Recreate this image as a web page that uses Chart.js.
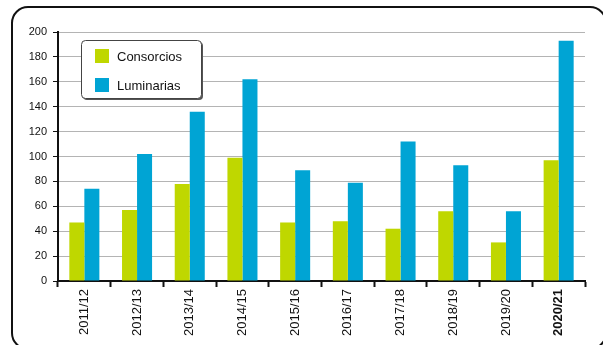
<!DOCTYPE html>
<html>
<head>
<meta charset="utf-8">
<script src="https://cdn.jsdelivr.net/npm/chart.js@4/dist/chart.umd.min.js"></script>
<style>
  html, body { margin: 0; padding: 0; background: #fff; }
  #wrap { width: 603px; height: 345px; position: relative; }
</style>
</head>
<body>
<div id="wrap"><canvas id="c" width="603" height="345"></canvas></div>
<script>
  const seasons = ["2011/12", "2012/13", "2013/14", "2014/15", "2015/16", "2016/17", "2017/18", "2018/19", "2019/20", "2020/21"];
  const consorcios = [47, 57, 78, 99, 47, 48, 42, 56, 31, 97];
  const luminarias = [74, 102, 136, 162, 89, 79, 112, 93, 56, 193];

  const GREEN = "#bfd700";
  const BLUE = "#00a4d4";
  const FONT = "'Liberation Sans', Arial, sans-serif";

  // rounded outer frame (runs past the right and bottom edges)
  const framePlugin = {
    id: "frame",
    beforeDraw(chart) {
      const ctx = chart.ctx;
      ctx.save();
      ctx.fillStyle = "#fff";
      ctx.fillRect(0, 0, chart.width, chart.height);
      ctx.beginPath();
      ctx.roundRect(12, 7, 594, 342, 16);
      ctx.lineWidth = 2;
      ctx.strokeStyle = "#111";
      ctx.stroke();
      ctx.restore();
    },
  };

  // boxed legend with drop shadow
  const legendBox = {
    id: "legendBox",
    afterDraw(chart) {
      const ctx = chart.ctx;
      const x = 81, y = 40, w = 120, h = 58;
      ctx.save();
      ctx.fillStyle = "#555";
      ctx.beginPath();
      ctx.roundRect(x + 2, y + 2, w, h, 4);
      ctx.fill();
      ctx.fillStyle = "#fff";
      ctx.strokeStyle = "#444";
      ctx.lineWidth = 1;
      ctx.beginPath();
      ctx.roundRect(x + 0.5, y + 0.5, w, h, 4);
      ctx.fill();
      ctx.stroke();
      ctx.font = "13px " + FONT;
      ctx.textBaseline = "middle";
      chart.data.datasets.forEach((ds, i) => {
        const yy = y + 16 + i * 29;
        ctx.fillStyle = ds.backgroundColor;
        ctx.fillRect(95, yy - 7, 14, 14);
        ctx.fillStyle = "#111";
        ctx.fillText(ds.label, 117, yy + 1);
      });
      ctx.restore();
    },
  };

  new Chart(document.getElementById("c"), {
    type: "bar",
    data: {
      labels: seasons,
      datasets: [
        { label: "Consorcios", data: consorcios, backgroundColor: GREEN, barPercentage: 1, categoryPercentage: 0.57 },
        { label: "Luminarias", data: luminarias, backgroundColor: BLUE, barPercentage: 1, categoryPercentage: 0.57 },
      ],
    },
    options: {
      responsive: false,
      animation: false,
      layout: { padding: { top: 32, right: 18, bottom: 0, left: 0 } },
      plugins: { legend: { display: false }, tooltip: { enabled: false } },
      scales: {
        x: {
          afterFit: s => { s.height = 64; },
          grid: { drawOnChartArea: false, tickLength: 6, tickColor: "#111", tickWidth: 2 },
          border: { color: "#111", width: 2 },
          ticks: {
            maxRotation: 90, minRotation: 90, padding: 2, color: "#111",
            font: c => ({ family: FONT, size: 13, weight: c.index === 9 ? "bold" : "normal" }),
          },
        },
        y: {
          min: 0, max: 200,
          afterFit: s => { s.width = 58; },
          grid: { color: "#b4b4b4", lineWidth: 1, tickLength: 5, tickColor: "#111" },
          border: { color: "#111", width: 2 },
          ticks: { stepSize: 20, padding: 6, color: "#111", font: { family: FONT, size: 11 } },
        },
      },
    },
    plugins: [framePlugin, legendBox],
  });
</script>
</body>
</html>
